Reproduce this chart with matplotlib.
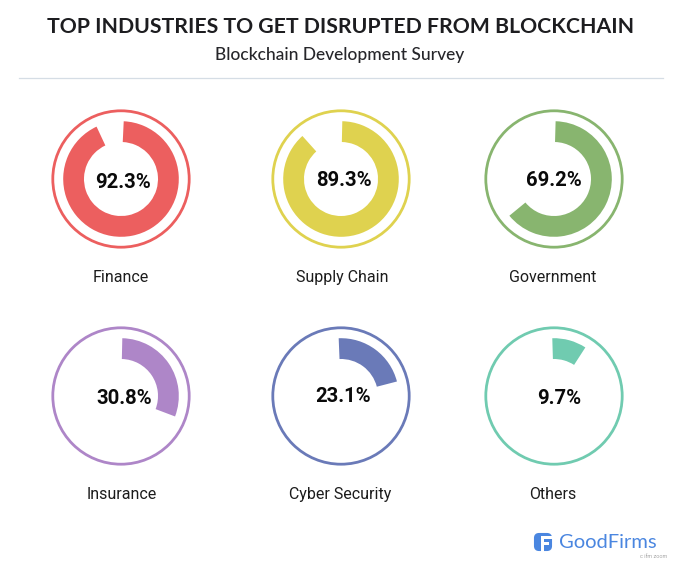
import matplotlib
matplotlib.use('Agg')
import matplotlib.pyplot as plt
from matplotlib.patches import Circle, FancyBboxPatch, Rectangle

W = 681
H = 564

title = 'TOP INDUSTRIES TO GET DISRUPTED FROM BLOCKCHAIN'
subtitle = 'Blockchain Development Survey'

industries = ['Finance', 'Supply Chain', 'Government', 'Insurance', 'Cyber Security', 'Others']
value_labels = ['92.3%', '89.3%', '69.2%', '30.8%', '23.1%', '9.7%']
# how much of the circle each arc really covers in the picture (percent),
# not always the same as the printed label
arc_shares = [92.3, 88.0, 63.6, 30.4, 21.6, 9.6]
colors = ['#EC5F5F', '#DFD24F', '#88B56F', '#AE86C8', '#6A7AB8', '#70CBB0']

# layout in image pixels, y measured from the top
centers = [(121, 179), (341, 179), (554, 179), (121, 396), (341, 396), (554, 396)]
start_shift = [2.7, 1.3, 1.6, 1.3, -2.3, -1.7]
value_pos = [(123, 182), (344, 181), (554, 181), (124, 398), (343, 397), (559, 398)]
name_pos = [(121, 282), (342, 282), (553, 282), (122, 499), (340, 499), (553, 499)]


def py(y):
	return H - y


fig = plt.figure(figsize=(W / 100, H / 100), dpi=100, facecolor='white')
ax = fig.add_axes([0, 0, 1, 1])

for i in range(len(industries)):
	cx, cy = centers[i]
	ax.pie([arc_shares[i], 100 - arc_shares[i]], colors=[colors[i], 'none'],
		startangle=90 - start_shift[i], counterclock=False,
		center=(cx, py(cy)), radius=57.8,
		wedgeprops={'width': 20.8, 'linewidth': 0})
	ax.add_patch(Circle((cx, py(cy)), 68.2, fill=False, edgecolor=colors[i], linewidth=2.0))
	ax.text(value_pos[i][0], py(value_pos[i][1]), value_labels[i], ha='center', va='center',
		fontsize=14.6, fontweight='bold', family='Roboto', color='#0a0a0a')
	ax.text(name_pos[i][0], py(name_pos[i][1]), industries[i], ha='center', va='baseline',
		fontsize=11.5, family='Roboto', color='#1c1c1c')

ax.text(341, py(27), title, ha='center', va='center', fontsize=15.3, fontweight='bold',
	family='Lato', color='#1d1d20')
ax.text(340, py(55), subtitle, ha='center', va='center', fontsize=12.5, fontweight='medium',
	family='Lato', color='#26262a')
ax.plot([19, 663], [py(78), py(78)], color='#d5dde5', linewidth=0.9)

# GoodFirms logo
blue = '#4A86E0'
ax.add_patch(FancyBboxPatch((535, py(550)), 16, 16, boxstyle='round,pad=0,rounding_size=4',
	facecolor=blue, edgecolor=blue, linewidth=1.5))
ax.add_patch(Rectangle((541, py(539)), 12, 2.6, facecolor='white', linewidth=0))
ax.add_patch(Rectangle((541, py(545)), 8, 2.6, facecolor='white', linewidth=0))
ax.add_patch(Rectangle((541, py(552)), 2.6, 14, facecolor='white', linewidth=0))
ax.text(559, py(542), 'GoodFirms', ha='left', va='center', fontsize=14.5, family='Lato', color=blue)
ax.text(667, py(557), 'c ifm zoom', ha='right', va='center', fontsize=4, family='Roboto', color='#a5a5a5')

ax.set_xlim(0, W)
ax.set_ylim(0, H)
ax.set_aspect('equal')
ax.axis('off')

fig.savefig('out.png', dpi=100, facecolor='white')
